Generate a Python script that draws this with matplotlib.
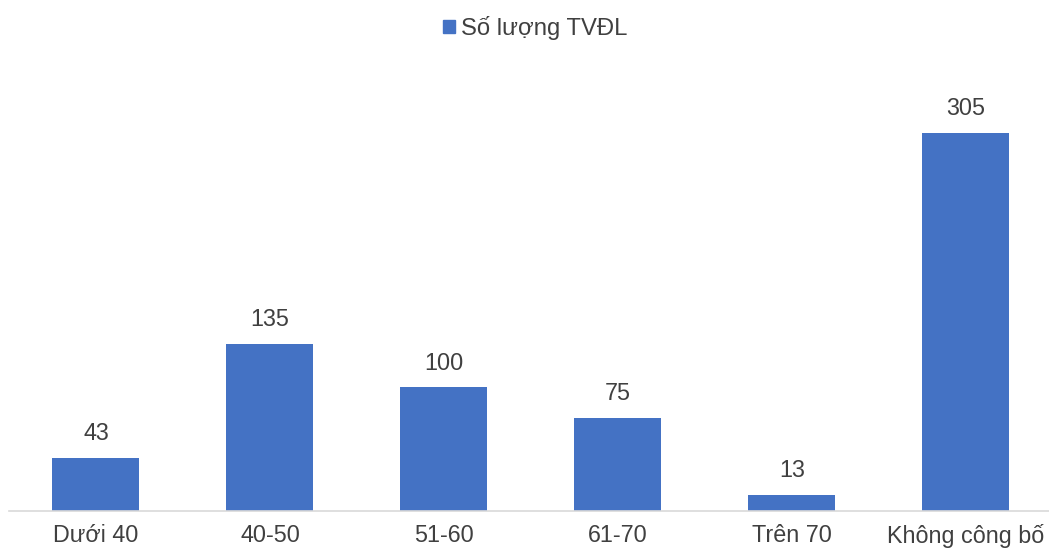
import matplotlib.pyplot as plt
from matplotlib.patches import Patch

plt.rcParams['font.family'] = ['Liberation Sans', 'DejaVu Sans']

categories = ['Dưới 40', '40-50', '51-60', '61-70', 'Trên 70', 'Không công bố']
counts = [43, 135, 100, 75, 13, 305]
series_name = 'Số lượng TVĐL'

bar_color = '#4472C4'
text_color = '#404040'
fs = 16.8

fig = plt.figure(figsize=(10.49, 5.51), dpi=100)
ax = fig.add_axes([9 / 1049, 40 / 551, 1044 / 1049, 434 / 551])

x = range(len(categories))
bars = ax.bar(x, counts, width=0.5, color=bar_color)

for rect, v in zip(bars, counts):
    ax.annotate(str(v), (rect.get_x() + rect.get_width() / 2, v),
                xytext=(0, 9), textcoords='offset points',
                ha='center', va='bottom', fontsize=fs, color=text_color)

ax.set_xlim(-0.5, len(categories) - 0.5)
ax.set_ylim(0, 350)
ax.set_xticks(list(x))
ax.set_xticklabels(categories, fontsize=fs, color=text_color)
ax.tick_params(axis='x', length=0, pad=9)
ax.set_yticks([])
for side in ['top', 'right', 'left']:
    ax.spines[side].set_visible(False)
ax.spines['bottom'].set_color('#D9D9D9')
ax.spines['bottom'].set_linewidth(1.2)

fig.legend(handles=[Patch(color=bar_color, label=series_name)],
           loc='center', bbox_to_anchor=(535 / 1049, 1 - 28 / 551),
           frameon=False, fontsize=17.2, handlelength=0.5, handleheight=0.5,
           handletextpad=0.25, labelcolor=text_color)

fig.savefig('out.png', dpi=100)
